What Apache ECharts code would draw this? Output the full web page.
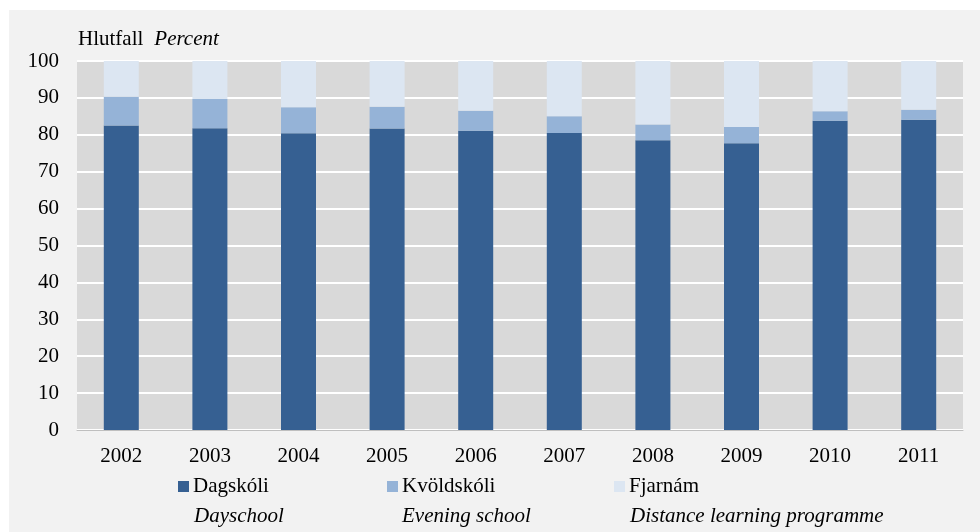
<!DOCTYPE html>
<html>
<head>
<meta charset="utf-8">
<script src="https://cdn.jsdelivr.net/npm/echarts@6/dist/echarts.min.js"></script>
<style>
  html, body { margin: 0; padding: 0; background: #fff; }
  #chart { width: 980px; height: 532px; }
</style>
</head>
<body>
<div id="chart"></div>
<script>
// ár / years
const years = ['2002', '2003', '2004', '2005', '2006', '2007', '2008', '2009', '2010', '2011'];
// Dagskóli - Dayschool
const dagskoli = [82.5, 81.8, 80.4, 81.7, 81.1, 80.5, 78.5, 77.7, 83.8, 84.1];
// Kvöldskóli - Evening school
const kvoldskoli = [7.8, 7.9, 7.1, 5.9, 5.4, 4.5, 4.3, 4.4, 2.6, 2.7];
// Fjarnám - Distance learning programme
const fjarnam = [9.7, 10.3, 12.5, 12.4, 13.5, 15.0, 17.2, 17.9, 13.6, 13.2];

const serif = "'Liberation Serif', 'Times New Roman', serif";
const fs = 21;

const myChart = echarts.init(document.getElementById('chart'));

let options = {
  backgroundColor: '#fff',
  animation: false,
  graphic: [
    { type: 'rect', z: -10, shape: { x: 9, y: 10, width: 971, height: 522 }, style: { fill: '#f2f2f2' } },
    { type: 'text', left: 194, top: 506, style: { text: 'Dayschool', font: 'italic ' + fs + 'px ' + serif, fill: '#000' } },
    { type: 'text', left: 402, top: 506, style: { text: 'Evening school', font: 'italic ' + fs + 'px ' + serif, fill: '#000' } },
    { type: 'text', left: 630, top: 506, style: { text: 'Distance learning programme', font: 'italic ' + fs + 'px ' + serif, fill: '#000' } }
  ],
  title: {
    text: '{a|Hlutfall}{b|Percent}',
    left: 78, top: 29, padding: 0,
    textStyle: {
      rich: {
        a: { fontFamily: serif, fontSize: fs, fontWeight: 'normal', color: '#000' },
        b: { fontFamily: serif, fontSize: fs, fontWeight: 'normal', fontStyle: 'italic', color: '#000', padding: [0, 0, 0, 11] }
      }
    }
  },
  grid: {
    left: 77, right: 17, top: 61, bottom: 102,
    show: true, backgroundColor: '#d9d9d9', borderWidth: 0
  },
  legend: [
    { data: ['Dagskóli'], left: 178, top: 476 },
    { data: ['Kvöldskóli'], left: 387, top: 476 },
    { data: ['Fjarnám'], left: 614, top: 476 }
  ].map(l => Object.assign(l, {
    icon: 'rect', itemWidth: 11, itemHeight: 11, itemGap: 0, padding: 0,
    textStyle: { fontFamily: serif, fontSize: fs, color: '#000', padding: [0, 0, 0, -1] }
  })),
  xAxis: {
    type: 'category',
    data: years,
    axisLine: { lineStyle: { color: '#bfbfbf', width: 1 } },
    axisTick: { show: false },
    axisLabel: { fontFamily: serif, fontSize: fs, color: '#000', margin: 16 }
  },
  yAxis: {
    type: 'value',
    min: 0, max: 100, interval: 10,
    axisLine: { show: false },
    axisTick: { show: false },
    axisLabel: { fontFamily: serif, fontSize: fs, color: '#000', margin: 18 },
    splitLine: { lineStyle: { color: '#ffffff', width: 2 } }
  },
  series: [
    { name: 'Dagskóli', type: 'bar', stack: 'a', data: dagskoli, barWidth: 35, itemStyle: { color: '#366092' } },
    { name: 'Kvöldskóli', type: 'bar', stack: 'a', data: kvoldskoli, barWidth: 35, itemStyle: { color: '#95b3d7' } },
    { name: 'Fjarnám', type: 'bar', stack: 'a', data: fjarnam, barWidth: 35, itemStyle: { color: '#dce6f2' } }
  ]
};

myChart.setOption(options);
</script>
</body>
</html>
